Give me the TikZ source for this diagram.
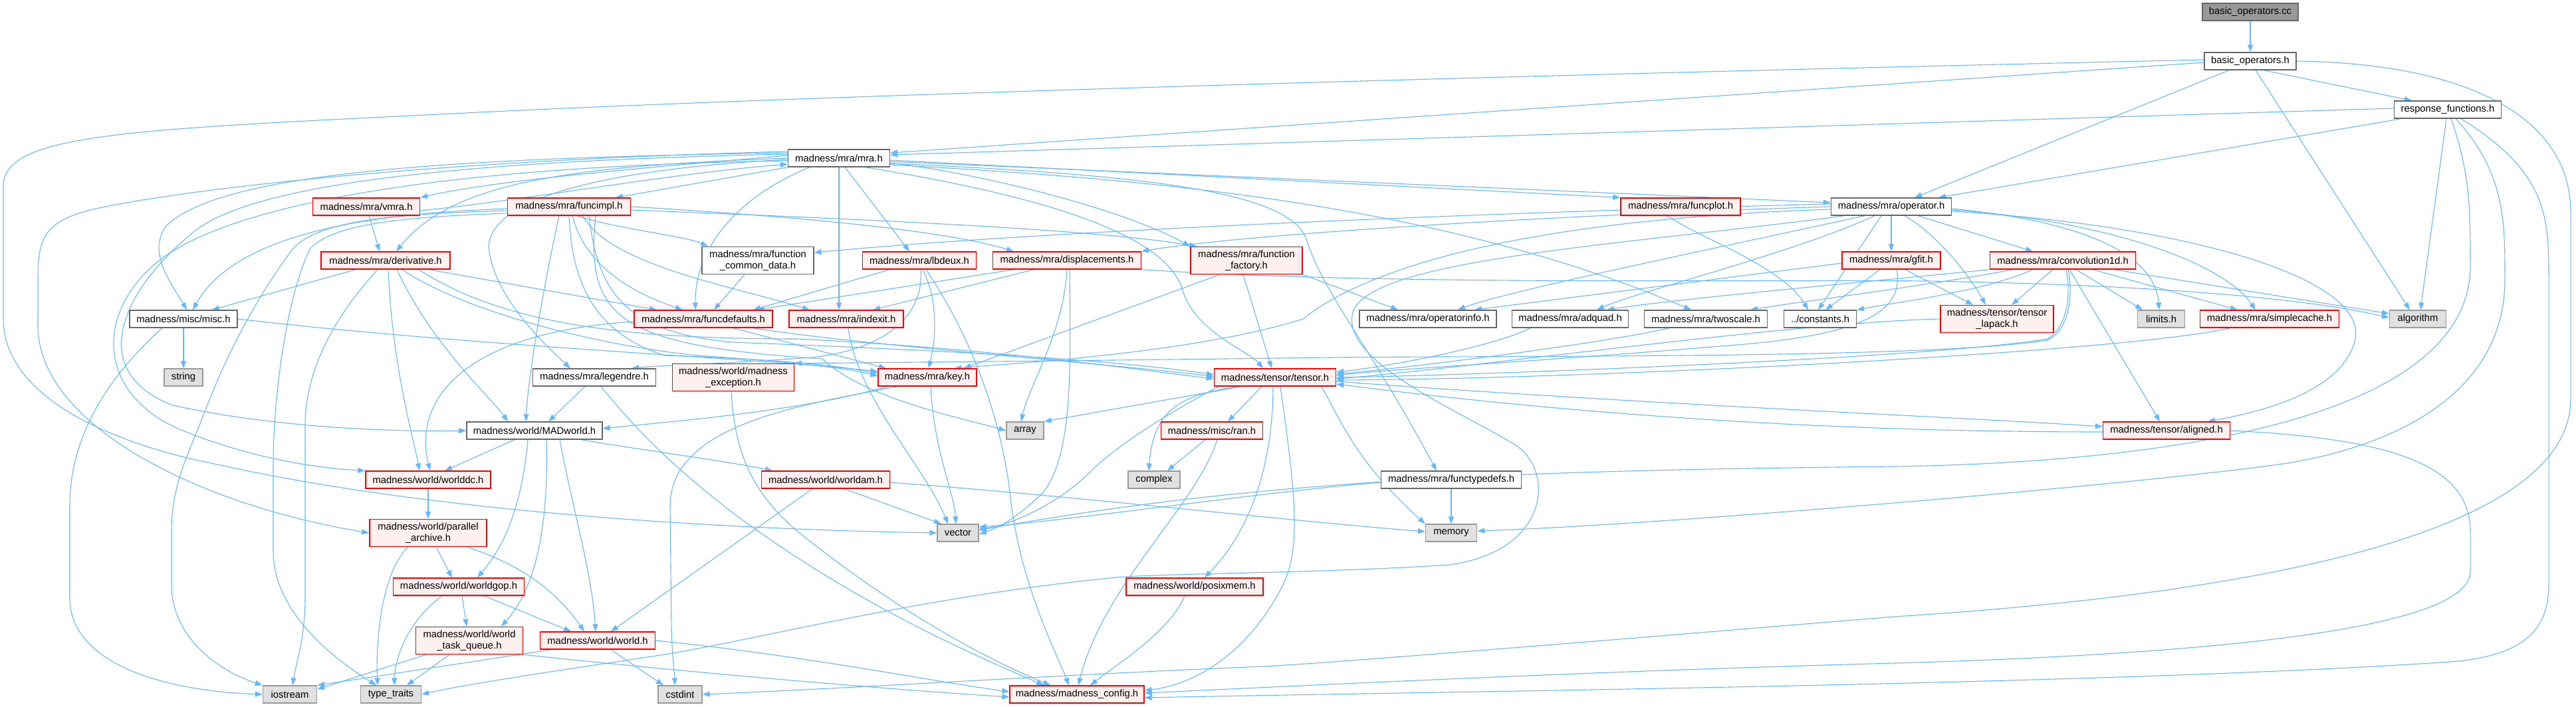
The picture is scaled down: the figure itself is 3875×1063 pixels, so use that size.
\documentclass[tikz,border=0pt]{standalone}
\usepackage{fontspec}
\setmainfont{Liberation Sans}
\usetikzlibrary{arrows.meta,backgrounds}
\definecolor{eb}{HTML}{63B8FF}
\definecolor{pk}{HTML}{FFF0F0}
\definecolor{sg}{HTML}{E0E0E0}
\definecolor{rg}{HTML}{999999}
\definecolor{nb}{HTML}{666666}
\definecolor{sb}{HTML}{999999}
\begin{document}
\begin{tikzpicture}[x=1pt,y=-1pt,
 nd/.style={draw=nb,fill=white,line width=1.4pt,inner xsep=2pt,inner ysep=1pt,minimum height=26,align=center,font=\fontsize{14.8}{17.5}\selectfont},
 rd/.style={nd,draw=red,fill=pk},
 sy/.style={nd,draw=sb,fill=sg},
 rt/.style={nd,draw=nb,fill=rg},
 ed/.style={draw=eb,line width=1.1pt,-{Triangle[length=11pt,width=8pt]}}]
\useasboundingbox (0,0) rectangle (3875,1063);
% nodes
\node[rt,minimum width=144] (cc) at (3385,18) {basic\_operators.cc};
\node[nd,minimum width=138] (boh) at (3385,92) {basic\_operators.h};
\node[nd,minimum width=161] (resp) at (3682,165) {response\_functions.h};
\node[nd,minimum width=153] (mra) at (1262,238) {madness/mra/mra.h};
\node[nd,minimum width=181] (oper) at (2845,311) {madness/mra/operator.h};
\node[rd,minimum width=161] (vmra) at (551,311) {madness/mra/vmra.h};
\node[rd,minimum width=185] (funcimpl) at (856,311) {madness/mra/funcimpl.h};
\node[rd,minimum width=180] (funcplot) at (2528,311) {madness/mra/funcplot.h};
\node[rd,minimum width=194] (deriv) at (580,392) {madness/mra/derivative.h};
\node[nd,minimum width=168,minimum height=41] (fcd) at (1140,392) {madness/mra/function\\\_common\_data.h};
\node[rd,minimum width=171] (lbdeux) at (1383,392) {madness/mra/lbdeux.h};
\node[rd,minimum width=223] (displ) at (1605,392) {madness/mra/displacements.h};
\node[rd,minimum width=168,minimum height=41] (ffac) at (1875,392) {madness/mra/function\\\_factory.h};
\node[rd,minimum width=148] (gfit) at (2845,392) {madness/mra/gfit.h};
\node[rd,minimum width=219] (conv) at (3103,392) {madness/mra/convolution1d.h};
\node[nd,minimum width=162] (misc) at (276,480) {madness/misc/misc.h};
\node[rd,minimum width=208] (fdef) at (1058,480) {madness/mra/funcdefaults.h};
\node[rd,minimum width=172] (indexit) at (1273,480) {madness/mra/indexit.h};
\node[nd,minimum width=206] (opinfo) at (2148,480) {madness/mra/operatorinfo.h};
\node[nd,minimum width=175] (adquad) at (2362,480) {madness/mra/adquad.h};
\node[nd,minimum width=185] (twoscale) at (2566,480) {madness/mra/twoscale.h};
\node[nd,minimum width=109] (const) at (2738,480) {../constants.h};
\node[rd,minimum width=170,minimum height=41] (lapack) at (3004,480) {madness/tensor/tensor\\\_lapack.h};
\node[sy,minimum width=71] (limits) at (3251,480) {limits.h};
\node[rd,minimum width=209] (scache) at (3414,480) {madness/mra/simplecache.h};
\node[sy,minimum width=85] (algo) at (3637,480) {algorithm};
\node[sy,minimum width=58] (string) at (276,568) {string};
\node[nd,minimum width=185] (legendre) at (894,568) {madness/mra/legendre.h};
\node[rd,minimum width=183,minimum height=41] (mexc) at (1103,568) {madness/world/madness\\\_exception.h};
\node[rd,minimum width=148] (key) at (1395,568) {madness/mra/key.h};
\node[rd,minimum width=183] (tensor) at (1918,568) {madness/tensor/tensor.h};
\node[nd,minimum width=204] (madworld) at (804,648) {madness/world/MADworld.h};
\node[sy,minimum width=56] (array) at (1542,648) {array};
\node[rd,minimum width=153] (ran) at (1823,648) {madness/misc/ran.h};
\node[rd,minimum width=191] (aligned) at (3259,648) {madness/tensor/aligned.h};
\node[rd,minimum width=188] (worlddc) at (644,722) {madness/world/worlddc.h};
\node[rd,minimum width=193] (worldam) at (1242,722) {madness/world/worldam.h};
\node[sy,minimum width=78] (complex) at (1736,722) {complex};
\node[nd,minimum width=211] (ftd) at (2183,722) {madness/mra/functypedefs.h};
\node[rd,minimum width=176,minimum height=41] (pararch) at (644,802) {madness/world/parallel\\\_archive.h};
\node[sy,minimum width=62] (vector) at (1441,802) {vector};
\node[sy,minimum width=77] (memory) at (2183,802) {memory};
\node[rd,minimum width=197] (worldgop) at (690,883) {madness/world/worldgop.h};
\node[rd,minimum width=206] (posixmem) at (1797,883) {madness/world/posixmem.h};
\node[rd,minimum width=161,minimum height=41] (wtq) at (706,964) {madness/world/world\\\_task\_queue.h};
\node[rd,minimum width=173] (world) at (899,964) {madness/world/world.h};
\node[sy,minimum width=81] (iostream) at (436,1045) {iostream};
\node[sy,minimum width=91] (ttraits) at (588,1045) {type\_traits};
\node[sy,minimum width=66] (cstdint) at (1023,1045) {cstdint};
\node[rd,minimum width=202] (mconfig) at (1620,1045) {madness/madness\_config.h};
\begin{pgfonlayer}{background}
% basic_operators
\draw[ed] (cc) -- (boh);
\draw[ed] ([yshift=-2pt]boh.west) -- ([yshift=8pt]mra.east);
\draw[ed] ([yshift=2pt]boh.west) .. controls (2500,108) and (1300,140) .. (700,170) .. controls (200,195) and (5,200) .. (5,280) -- (5,480) .. controls (5,590) and (150,665) .. (332,700) .. controls (600,760) and (1000,795) .. (vector.west);
\draw[ed] ([xshift=-32pt]boh.south) -- ([xshift=35pt]oper.north);
\draw[ed] ([xshift=20pt]boh.south) -- ([xshift=-54pt]resp.north);
\draw[ed] ([xshift=8pt]boh.south) -- ([xshift=-12pt]algo.north);
\draw[ed] (boh.east) .. controls (3700,95) and (3867,170) .. (3867,320) -- (3867,600) .. controls (3867,790) and (3450,890) .. (2850,928) .. controls (2400,965) and (2000,998) .. (1900,1003) .. controls (1600,1015) and (1300,1035) .. (cstdint.east);
% response_functions
\draw[ed] ([yshift=2pt]resp.west) -- ([yshift=5pt]mra.east);
\draw[ed] ([xshift=-70pt]resp.south) -- ([xshift=71pt]oper.north);
\draw[ed] ([xshift=-2pt]resp.south) -- ([xshift=4pt]algo.north);
\draw[ed] ([xshift=5pt]resp.south) .. controls (3716,260) and (3716,320) .. (3716,400) .. controls (3716,620) and (3300,695) .. (2850,702) .. controls (2300,708) and (1900,720) .. ([yshift=4pt]vector.east);
\draw[ed] ([xshift=12pt]resp.south) .. controls (3768,260) and (3768,330) .. (3768,420) .. controls (3768,640) and (3500,690) .. (3419,700) .. controls (3200,730) and (2500,790) .. ([yshift=3pt]memory.east);
\draw[ed] ([xshift=20pt]resp.south) .. controls (3834,260) and (3834,330) .. (3834,420) -- (3834,880) .. controls (3834,960) and (3780,985) .. (3700,995) .. controls (3200,1030) and (2200,1040) .. ([yshift=-5pt]mconfig.east);
% mra
\draw[ed] ([yshift=4pt]mra.west) .. controls (1000,250) and (750,270) .. (vmra.north east);
\draw[ed] ([yshift=-6pt]vmra.east) .. controls (800,300) and (1000,262) .. ([yshift=-9pt]mra.west);
\draw[ed] (mra.south west) -- ([xshift=70pt]funcimpl.north);
\draw[ed] ([yshift=-3pt]mra.east) -- (funcplot.north west);
\draw[ed] ([yshift=-5pt]mra.east) -- ([yshift=6pt]oper.west);
\draw[ed] ([yshift=-7pt]mra.east) .. controls (1500,265) and (1700,320) .. (ffac.north west);
\draw[ed] ([xshift=40pt]mra.south) .. controls (1600,300) and (1760,360) .. (1780,440) .. controls (1800,500) and (1880,530) .. ([xshift=-18pt]tensor.north);
\draw[ed] ([xshift=9pt]mra.south) -- ([xshift=-15pt]lbdeux.north);
\draw[ed] (mra.south) -- ([xshift=-11pt]indexit.north);
\draw[ed] ([xshift=-44pt]mra.south) .. controls (1100,300) and (1045,380) .. ([xshift=-12pt]fdef.north);
\draw[ed] ([yshift=-2pt]mra.west) .. controls (900,255) and (740,300) .. (735,370) .. controls (740,440) and (810,510) .. ([xshift=-36pt]legendre.north);
\draw[ed] ([yshift=6pt]mra.west) .. controls (700,242) and (380,275) .. (290,350) .. controls (180,440) and (130,560) .. (260,610) .. controls (420,645) and (600,650) .. (madworld.west);
\draw[ed] ([yshift=8pt]mra.west) .. controls (650,238) and (330,262) .. (250,340) .. controls (220,380) and (260,430) .. ([xshift=5pt]misc.north);
\draw[ed] ([yshift=10pt]mra.west) .. controls (600,243) and (250,290) .. (140,315) .. controls (65,333) and (57,360) .. (57,420) -- (57,490) .. controls (57,640) and (300,760) .. (pararch.west);
\draw[ed] ([yshift=-4pt]mra.west) .. controls (650,250) and (330,310) .. (230,400) .. controls (140,480) and (150,600) .. (280,650) .. controls (380,690) and (480,705) .. (worlddc.north west);
\draw[ed] (mra.west) .. controls (850,250) and (680,275) .. ([xshift=16pt]deriv.north);
\draw[ed] ([yshift=-8pt]mra.east) .. controls (1700,262) and (1940,285) .. (1965,360) .. controls (1990,440) and (2060,520) .. ([xshift=-22pt]ftd.north);
\draw[ed] ([yshift=-10pt]mra.east) .. controls (1700,268) and (2150,300) .. ([xshift=-22pt]twoscale.north);
% vmra
\draw[ed] ([xshift=4pt]vmra.south) -- ([xshift=-9pt]deriv.north);
% operator
\draw[ed] ([yshift=4pt]oper.west) .. controls (2300,318) and (1600,345) .. ([yshift=12pt]fcd.east);
\draw[ed] (oper.west) .. controls (2300,325) and (1850,355) .. (displ.north east);
\draw[ed] ([yshift=-4pt]oper.west) .. controls (2300,330) and (2060,400) .. (1960,480) .. controls (1800,530) and (1550,545) .. ([xshift=40pt]key.north);
\draw[ed] ([xshift=-70pt]oper.south) .. controls (2430,370) and (2060,390) .. (2035,470) .. controls (2015,545) and (2200,620) .. (2280,670) .. controls (2340,710) and (2330,830) .. (2180,850) .. controls (2000,862) and (1800,862) .. (1690,868) .. controls (1400,895) and (1150,960) .. (1000,985) .. controls (800,1015) and (700,1030) .. (ttraits.east);
\draw[ed] ([xshift=-40pt]oper.south) .. controls (2550,380) and (2260,440) .. ([xshift=45pt]opinfo.north);
\draw[ed] ([xshift=-25pt]oper.south) .. controls (2700,380) and (2460,440) .. ([xshift=40pt]adquad.north);
\draw[ed] ([xshift=-15pt]oper.south) -- ([xshift=-3pt]const.north);
\draw[ed] (oper.south) -- (gfit.north);
\draw[ed] ([xshift=20pt]oper.south) .. controls (2910,350) and (2960,410) .. ([xshift=-17pt]lapack.north);
\draw[ed] ([xshift=40pt]oper.south) -- ([xshift=-45pt]conv.north);
\draw[ed] ([yshift=-3pt]oper.east) .. controls (3100,330) and (3240,370) .. ([xshift=-3pt]limits.north);
\draw[ed] ([yshift=-5pt]oper.east) .. controls (3150,330) and (3340,390) .. ([xshift=-21pt]scache.north);
\draw[ed] ([yshift=-7pt]oper.east) .. controls (3300,340) and (3560,420) .. (3543,510) .. controls (3525,590) and (3400,620) .. ([xshift=62pt]aligned.north);
% gfit
\draw[ed] ([yshift=-4pt]gfit.west) -- ([xshift=70pt]opinfo.north);
\draw[ed] ([xshift=-17pt]gfit.south) -- ([xshift=8pt]const.north);
\draw[ed] ([xshift=21pt]gfit.south) -- ([xshift=-36pt]lapack.north);
\draw[ed] ([xshift=8pt]gfit.south) .. controls (2865,470) and (2800,505) .. (2600,520) .. controls (2300,545) and (2100,555) .. ([yshift=3pt]tensor.east);
% convolution1d
\draw[ed] (conv.south west) .. controls (2800,425) and (2520,450) .. ([xshift=55pt]adquad.north);
\draw[ed] ([xshift=-75pt]conv.south) .. controls (2900,430) and (2700,455) .. ([xshift=67pt]twoscale.north);
\draw[ed] ([xshift=-45pt]conv.south) .. controls (2980,440) and (2850,455) .. (const.north east);
\draw[ed] ([xshift=-15pt]conv.south) -- ([xshift=22pt]lapack.north);
\draw[ed] ([xshift=20pt]conv.south) -- ([xshift=-28pt]limits.north);
\draw[ed] ([xshift=45pt]conv.south) -- ([xshift=-48pt]scache.north);
\draw[ed] ([xshift=77pt]conv.south) -- ([yshift=8pt]algo.west);
\draw[ed] ([xshift=10pt]conv.south) -- ([xshift=-10pt]aligned.north);
\draw[ed] ([xshift=5pt]conv.south) .. controls (3115,440) and (3112,490) .. (3080,510) .. controls (2900,540) and (2200,565) .. (tensor.east);
\draw[ed] ([xshift=8pt]conv.south) .. controls (3118,440) and (3115,495) .. (3080,512) .. controls (2900,540) and (2300,535) .. (2000,538) .. controls (1700,542) and (1400,545) .. (mexc.north east);
% lapack, scache, twoscale, adquad
\draw[ed] (lapack.west) .. controls (2700,485) and (2200,555) .. ([yshift=-2pt]tensor.east);
\draw[ed] ([xshift=-60pt]scache.south) .. controls (3200,530) and (2400,570) .. ([yshift=-4pt]tensor.east);
\draw[ed] ([xshift=-55pt]twoscale.south) .. controls (2420,515) and (2150,550) .. ([yshift=5pt]tensor.east);
\draw[ed] ([xshift=-60pt]adquad.south) .. controls (2250,520) and (2100,550) .. ([yshift=8pt]tensor.east);
% tensor & aligned
\draw[ed] ([yshift=-6pt]tensor.east) .. controls (2500,610) and (2900,625) .. ([yshift=6pt]aligned.west);
\draw[ed] ([yshift=-2pt]aligned.west) .. controls (2900,650) and (2500,640) .. ([yshift=-10pt]tensor.east);
\draw[ed] (aligned.east) .. controls (3600,660) and (3716,700) .. (3716,800) -- (3716,860) .. controls (3716,950) and (3300,985) .. (2850,998) .. controls (2400,1010) and (2000,1030) .. ([yshift=2pt]mconfig.east);
\draw[ed] ([xshift=-50pt]tensor.south) -- (array.north east);
\draw[ed] ([xshift=-20pt]tensor.south) -- ([xshift=24pt]ran.north);
\draw[ed] ([xshift=-56pt]tensor.south) .. controls (1770,595) and (1735,620) .. ([xshift=-8pt]complex.north);
\draw[ed] ([xshift=-10pt]ran.south) -- ([xshift=20pt]complex.north);
\draw[ed] ([xshift=-3pt]tensor.south) .. controls (1915,700) and (1880,800) .. ([xshift=15pt]posixmem.north);
\draw[ed] ([xshift=8pt]tensor.south) .. controls (1945,720) and (1960,820) .. (1930,880) .. controls (1880,980) and (1800,1030) .. ([yshift=6pt]mconfig.east);
\draw[ed] ([xshift=70pt]tensor.south) .. controls (2020,640) and (2045,700) .. (memory.north west);
\draw[ed] ([xshift=-85pt]tensor.south) .. controls (1760,620) and (1680,670) .. (1640,710) .. controls (1590,760) and (1520,790) .. ([yshift=6pt]vector.east);
\draw[ed] ([xshift=-15pt]posixmem.south) .. controls (1760,950) and (1680,1000) .. ([xshift=20pt]mconfig.north);
\draw[ed] ([xshift=8pt]ran.south) .. controls (1800,760) and (1660,880) .. ([xshift=2pt]mconfig.north);
% funcimpl
\draw[ed] ([xshift=12pt]funcimpl.south) .. controls (930,345) and (1030,355) .. ([xshift=-75pt]fcd.north);
\draw[ed] ([xshift=20pt]funcimpl.south) .. controls (920,400) and (1100,430) .. ([xshift=-55pt]indexit.north);
\draw[ed] ([xshift=5pt]funcimpl.south) .. controls (880,400) and (950,440) .. ([xshift=-31pt]fdef.north);
\draw[ed] ([yshift=-3pt]funcimpl.west) .. controls (600,320) and (360,340) .. ([xshift=14pt]misc.north);
\draw[ed] ([yshift=-6pt]funcimpl.west) .. controls (600,322) and (480,330) .. (440,375) .. controls (370,470) and (330,560) .. (300,640) .. controls (275,700) and (258,740) .. (258,800) -- (258,880) .. controls (258,960) and (330,1010) .. (iostream.north west);
\draw[ed] ([yshift=-10pt]funcimpl.west) .. controls (620,326) and (500,335) .. (466,375) .. controls (430,450) and (411,600) .. (411,700) -- (411,830) .. controls (411,920) and (500,990) .. ([xshift=-22pt]ttraits.north);
\draw[ed] ([xshift=-15pt]funcimpl.south) .. controls (820,420) and (795,560) .. ([xshift=-13pt]madworld.north);
\draw[ed] (funcimpl.south) .. controls (860,420) and (890,500) .. (1000,535) .. controls (1150,540) and (1250,548) .. ([yshift=6pt]key.west);
\draw[ed] (funcimpl.east) .. controls (1100,320) and (1400,340) .. ([xshift=-80pt]displ.north);
\draw[ed] ([yshift=-5pt]funcimpl.east) .. controls (1300,330) and (1650,345) .. ([xshift=10pt]ffac.north west);
\draw[ed] ([xshift=30pt]funcimpl.south) .. controls (900,450) and (950,500) .. (1100,515) .. controls (1500,530) and (1700,545) .. ([yshift=4pt]tensor.west);
\draw[ed] ([xshift=40pt]funcimpl.south) .. controls (880,480) and (930,520) .. (1237,540) .. controls (1300,600) and (1450,630) .. (array.west);
% derivative
\draw[ed] ([xshift=-45pt]deriv.south) -- ([xshift=43pt]misc.north);
\draw[ed] ([xshift=65pt]deriv.south) -- ([xshift=-70pt]fdef.north);
\draw[ed] ([xshift=4pt]deriv.south) .. controls (590,550) and (620,650) .. ([xshift=-13pt]worlddc.north);
\draw[ed] ([xshift=17pt]deriv.south) .. controls (650,520) and (740,600) .. ([xshift=-40pt]madworld.north);
\draw[ed] ([xshift=-12pt]deriv.south) .. controls (500,480) and (459,560) .. (459,640) -- (459,900) .. controls (459,960) and (445,1000) .. ([xshift=4pt]iostream.north);
\draw[ed] ([xshift=25pt]deriv.south) .. controls (700,470) and (900,520) .. (1050,535) .. controls (1200,545) and (1280,555) .. ([yshift=2pt]key.west);
\draw[ed] ([xshift=50pt]deriv.south) .. controls (760,490) and (950,510) .. (1200,510) .. controls (1500,525) and (1700,555) .. ([yshift=-2pt]tensor.west);
% misc
\draw[ed] (misc.south) -- (string.north);
\draw[ed] ([xshift=-32pt]misc.south) .. controls (170,560) and (105,650) .. (105,760) -- (105,900) .. controls (105,1000) and (250,1040) .. (iostream.west);
\draw[ed] (misc.east) .. controls (700,520) and (1150,540) .. ([yshift=9pt]key.west);
% fcd, lbdeux, displ, fdef, indexit
\draw[ed] ([xshift=-20pt]fcd.south) -- ([xshift=16pt]fdef.north);
\draw[ed] ([xshift=-45pt]lbdeux.south) -- ([xshift=75pt]fdef.north);
\draw[ed] ([xshift=5pt]lbdeux.south) .. controls (1415,460) and (1405,520) .. ([xshift=2pt]key.north);
\draw[ed] ([xshift=2pt]lbdeux.south) .. controls (1390,470) and (1340,525) .. (1220,538) .. controls (1080,548) and (990,550) .. ([xshift=56pt]legendre.north);
\draw[ed] ([xshift=10pt]lbdeux.south) .. controls (1470,520) and (1510,650) .. (1520,750) .. controls (1535,880) and (1590,985) .. ([xshift=-12pt]mconfig.north);
\draw[ed] ([xshift=-80pt]displ.south) -- ([xshift=80pt]fdef.north);
\draw[ed] ([xshift=-50pt]displ.south) -- ([xshift=40pt]indexit.north);
\draw[ed] (displ.south) .. controls (1600,500) and (1548,580) .. ([xshift=-6pt]array.north);
\draw[ed] ([xshift=4pt]displ.south) .. controls (1610,550) and (1615,680) .. (1570,740) .. controls (1530,780) and (1500,795) .. ([yshift=-2pt]vector.east);
\draw[ed] (displ.south east) .. controls (2100,430) and (2600,420) .. (2900,423) .. controls (3200,428) and (3450,445) .. ([yshift=2pt]algo.west);
\draw[ed] ([xshift=45pt]fdef.south) -- ([xshift=-62pt]key.north);
\draw[ed] ([xshift=75pt]fdef.south) .. controls (1300,520) and (1700,550) .. ([yshift=1pt]tensor.west);
\draw[ed] ([yshift=-4pt]fdef.west) .. controls (700,500) and (620,600) .. ([xshift=3pt]worlddc.north);
\draw[ed] ([xshift=3pt]indexit.south) .. controls (1290,600) and (1390,700) .. ([xshift=-15pt]vector.north);
% ffac
\draw[ed] ([xshift=-40pt]ffac.south) -- ([xshift=55pt]key.north);
\draw[ed] ([xshift=-5pt]ffac.south) -- ([xshift=-5pt]tensor.north);
\draw[ed] (ffac.south east) -- ([xshift=-45pt]opinfo.north);
% funcplot
\draw[ed] ([xshift=-20pt]funcplot.south) .. controls (2560,360) and (2680,400) .. ([xshift=-18pt]const.north);
% legendre, mexc, key
\draw[ed] ([xshift=-14pt]legendre.south) -- ([xshift=21pt]madworld.north);
\draw[ed] ([xshift=10pt]legendre.south) .. controls (960,650) and (1010,700) .. (1100,770) .. controls (1300,920) and (1500,1000) .. ([xshift=-50pt]mconfig.north);
\draw[ed] ([xshift=-3pt]mexc.south) .. controls (1105,680) and (1130,740) .. (1200,800) .. controls (1350,920) and (1480,990) .. ([xshift=-40pt]mconfig.north);
\draw[ed] ([xshift=-60pt]key.south) .. controls (1200,620) and (1000,635) .. ([yshift=3pt]madworld.east);
\draw[ed] ([xshift=5pt]key.south) .. controls (1405,680) and (1435,740) .. ([xshift=-3pt]vector.north);
\draw[ed] ([xshift=-45pt]key.south) .. controls (1200,610) and (1010,640) .. (1008,760) -- (1010,950) .. controls (1012,1000) and (1015,1015) .. ([xshift=-8pt]cstdint.north);
% MADworld
\draw[ed] ([xshift=-30pt]madworld.south) -- ([xshift=25pt]worlddc.north);
\draw[ed] ([xshift=70pt]madworld.south) .. controls (950,675) and (1100,695) .. ([xshift=-80pt]worldam.north);
\draw[ed] ([xshift=-10pt]madworld.south) .. controls (785,760) and (760,820) .. ([xshift=28pt]worldgop.north);
\draw[ed] ([xshift=18pt]madworld.south) .. controls (825,780) and (810,880) .. ([xshift=48pt]wtq.north);
\draw[ed] ([xshift=38pt]madworld.south) .. controls (860,760) and (890,860) .. ([xshift=-3pt]world.north);
% world layer
\draw[ed] (worlddc.south) -- (pararch.north);
\draw[ed] ([xshift=12pt]pararch.south) -- ([xshift=-10pt]worldgop.north);
\draw[ed] ([xshift=58pt]pararch.south) .. controls (770,845) and (830,880) .. ([xshift=-20pt]world.north);
\draw[ed] ([xshift=-30pt]pararch.south) .. controls (575,860) and (565,960) .. ([xshift=-20pt]ttraits.north);
\draw[ed] ([xshift=-25pt]worldgop.south) .. controls (620,930) and (595,980) .. ([xshift=5pt]ttraits.north);
\draw[ed] ([xshift=5pt]worldgop.south) -- ([xshift=-4pt]wtq.north);
\draw[ed] ([xshift=38pt]worldgop.south) -- ([xshift=-40pt]world.north);
\draw[ed] ([xshift=-65pt]wtq.south) -- ([yshift=-6pt]iostream.north east);
\draw[ed] ([xshift=-30pt]wtq.south) -- ([xshift=24pt]ttraits.north);
\draw[ed] (wtq.south east) .. controls (1000,1008) and (1300,1035) .. ([yshift=-4pt]mconfig.west);
\draw[ed] ([xshift=-70pt]world.south) -- (iostream.north east);
\draw[ed] ([xshift=20pt]world.south) -- ([xshift=-25pt]cstdint.north);
\draw[ed] (world.east) .. controls (1200,985) and (1400,1025) .. ([yshift=4pt]mconfig.west);
\draw[ed] ([xshift=-20pt]worldam.south) -- ([xshift=20pt]world.north);
\draw[ed] ([xshift=28pt]worldam.south) -- ([xshift=-25pt]vector.north);
\draw[ed] ([yshift=-4pt]worldam.east) .. controls (1600,745) and (1950,785) .. ([yshift=2pt]memory.west);
\draw[ed] (ftd.south) -- (memory.north);
\draw[ed] ([yshift=-4pt]ftd.west) .. controls (1900,740) and (1600,785) .. ([yshift=9pt]vector.east);
\end{pgfonlayer}
\end{tikzpicture}
\end{document}
